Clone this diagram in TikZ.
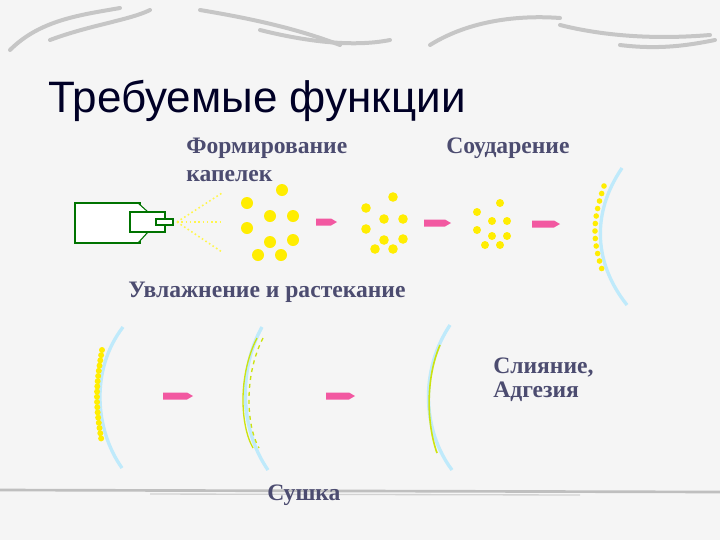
\documentclass[tikz,border=0pt]{standalone}
\usepackage{fontspec}
\setmainfont{Liberation Serif}
\newfontfamily\titlefont{Liberation Sans}
\begin{document}
\begin{tikzpicture}[x=0.75pt,y=-0.75pt,
 lbl/.style={font=\bfseries\fontsize{17.7}{19}\selectfont, text=black!80!blue!70, anchor=west, inner sep=0},
 drop/.style={fill=yellow!95!orange, draw=none},
 parr/.style={fill=magenta!55!pink, draw=none},
 surf/.style={draw=cyan!25, line width=2.5pt},
 noz/.style={draw=green!45!black, line width=0.8pt, fill=white},
 deco/.style={draw=gray!45, line width=3pt, line cap=round}]
\fill[gray!8] (0,0) rectangle (720,540);
\useasboundingbox (0,0) rectangle (720,540);
% top decoration
\draw[deco] (10,50) .. controls (40,20) and (80,15) .. (120,8);
\draw[deco] (50,40) .. controls (90,25) and (130,20) .. (150,10);
\draw[deco] (200,10) .. controls (260,20) and (300,30) .. (340,45);
\draw[deco] (260,30) .. controls (300,40) and (350,48) .. (390,40);
\draw[deco] (430,45) .. controls (470,20) and (520,15) .. (560,18);
\draw[deco] (560,25) .. controls (600,35) and (650,40) .. (710,35);
\draw[deco] (620,45) .. controls (660,50) and (690,45) .. (715,40);
% bottom line
\draw[draw=gray!50, line width=2pt] (0,490) -- (720,492);
\draw[draw=gray!35, line width=1pt] (150,494) -- (580,495);
% title
\node[anchor=west, inner sep=0, text=black!85!blue, font=\titlefont\fontsize{33}{36}\selectfont] (title) at (48,101) {Требуемые функции};
\node[lbl] (l1) at (186,148) {Формирование};
\node[lbl] (l2) at (186,176) {капелек};
\node[lbl] (l3) at (446,148) {Соударение};
\node[lbl] (l4) at (128,292) {Увлажнение и растекание};
\node[lbl] (l5) at (493,368) {Слияние,};
\node[lbl] (l6) at (493,392) {Адгезия};
\node[lbl] (l7) at (267,495) {Сушка};
% nozzle
\draw[noz] (75,203) rectangle (140,243);
\draw[noz] (138,203) -- (148,212) -- (138,212);
\draw[noz] (138,243) -- (148,232) -- (138,232);
\draw[noz] (130,212) rectangle (165,232);
\draw[noz] (156,219) rectangle (173,225);
\foreach \yy in {193,222,252} \draw[yellow!70, dotted, line width=1.2pt] (177,222) -- (222,\yy);
% drops
\foreach \p in {(282,190),(247,203),(270,216),(293,216),(247,228),(270,242),(293,240),(258,255),(281,255)} \fill[drop] \p circle (6);
\foreach \p in {(393,197),(366,208),(384,219),(403,219),(366,229),(384,240),(403,239),(375,249),(393,249)} \fill[drop] \p circle (4.8);
\foreach \p in {(500,203),(477,212),(492,221),(507,221),(477,230),(492,236),(507,236),(485,245),(500,245)} \fill[drop] \p circle (4);
% arrows
\foreach \a/\b/\yy in {316/337/222,424/451/223,532/560/224,163/193/396,326/355/396}
 \fill[parr] (\a,\yy-3.5) -- (\b-6,\yy-3.5) -- (\b,\yy) -- (\b-6,\yy+3.5) -- (\a,\yy+3.5) -- cycle;
% surfaces
\draw[surf] (622,168) .. controls (590,215) and (595,265) .. (627,305);
\foreach \i in {0,...,11} \fill[drop] ({604-9*sin(\i*15)},{186+7.5*\i}) circle (2.8);
\draw[surf] (123,327) .. controls (90,370) and (95,430) .. (122,468);
\foreach \i in {0,...,17} \fill[drop] ({102-5*sin(\i*10)},{350+5.2*\i}) circle (3);
\draw[surf] (262,327) .. controls (238,370) and (240,430) .. (268,470);
\draw[yellow!80!green, line width=1pt] (257,338) .. controls (238,375) and (240,425) .. (253,448);
\draw[yellow!80!green, line width=1pt, dashed] (263,338) .. controls (244,375) and (246,425) .. (259,448);
\draw[surf] (450,325) .. controls (420,370) and (422,430) .. (452,470);
\draw[yellow!80!green, line width=1.2pt] (440,345) .. controls (425,380) and (427,425) .. (437,453);
\end{tikzpicture}
\end{document}
